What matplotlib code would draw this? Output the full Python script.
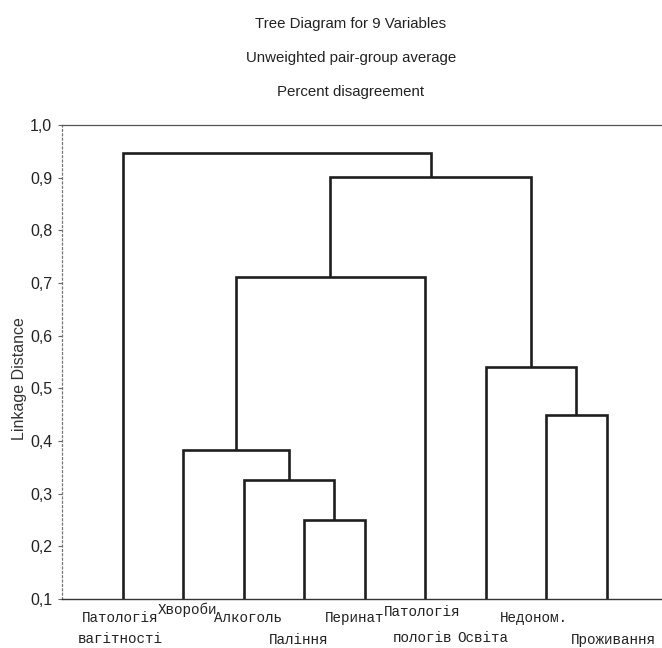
import matplotlib
matplotlib.use("Agg")
import matplotlib.pyplot as plt
import matplotlib.transforms as mtransforms

# ---- data ----
leaf_labels = ["Патологія\nвагітності", "Хвороби", "Алкоголь", "Паління", "Перинат",
               "Патологія\nпологів", "Освіта", "Недоном.", "Проживання"]
# merges: (left node, right node, linkage distance); nodes 0-8 are leaves, new nodes numbered from 9
merge_left = [3, 2, 1, 7, 6, 11, 14, 0]
merge_right = [4, 9, 10, 8, 12, 5, 13, 15]
merge_height = [0.25, 0.326, 0.383, 0.449, 0.54, 0.711, 0.901, 0.946]
y_ticks = [0.1, 0.2, 0.3, 0.4, 0.5, 0.6, 0.7, 0.8, 0.9, 1.0]
title_lines = ["Tree Diagram for 9 Variables", "Unweighted pair-group average", "Percent disagreement"]

sans = "Liberation Sans"
mono = "Liberation Mono"

fig = plt.figure(figsize=(6.62, 6.48), dpi=100)
ax = fig.add_axes([62 / 662, 49 / 648, 605 / 662, 474 / 648])

ymin = 0.1
pos = {i: float(i + 1) for i in range(len(leaf_labels))}
hgt = {i: ymin for i in range(len(leaf_labels))}
node = len(leaf_labels)
for l, r, h in zip(merge_left, merge_right, merge_height):
    xl, xr = pos[l], pos[r]
    ax.plot([xl, xl, xr, xr], [hgt[l], h, h, hgt[r]], color="#1e1e1e", lw=1.9,
            solid_joinstyle="miter", solid_capstyle="butt")
    pos[node] = (xl + xr) / 2
    hgt[node] = h
    node += 1

ax.set_xlim(0, 10)
ax.set_ylim(ymin, 1.0)
ax.set_yticks(y_ticks)
ax.set_yticklabels([f"{v:.1f}".replace(".", ",") for v in y_ticks], fontfamily=sans, fontsize=11.5,
                   color="#222")
ax.set_xticks([])
ax.tick_params(axis="y", length=3, width=0.8, color="#666", pad=4)

ax.spines["right"].set_visible(False)
ax.spines["top"].set_color("#555")
ax.spines["top"].set_linewidth(0.9)
ax.spines["left"].set_color("#777")
ax.spines["left"].set_linewidth(0.9)
ax.spines["left"].set_linestyle((0, (1.5, 2)))
ax.spines["bottom"].set_color("#333")
ax.spines["bottom"].set_linewidth(1.0)

ax.set_ylabel("Linkage Distance", fontfamily=sans, fontsize=11.5, color="#333")
ax.yaxis.set_label_coords(-0.058, 0.466)

# staggered leaf labels (style: pixel offsets below the axis for each line, horizontal nudges)
label_dy = [(19, 40), (11,), (19,), (41,), (19,), (13, 39), (39,), (19,), (41,)]
label_dx = [-2, 4, 4, -5, -10, -3, -3, -12, 7]
for i, txt in enumerate(leaf_labels):
    for line, dy in zip(txt.split("\n"), label_dy[i]):
        off = mtransforms.offset_copy(ax.get_xaxis_transform(), fig=fig,
                                      x=label_dx[i] * 0.72, y=-dy * 0.72, units="points")
        ax.text(pos[i], 0, line, transform=off, ha="center", va="center",
                fontfamily=mono, fontsize=10.3, color="#222")

for k, line in enumerate(title_lines):
    fig.text(351 / 662, 1 - (24 + 34 * k) / 648, line, ha="center", va="center",
             fontfamily=sans, fontsize=10.8, color="#222")

fig.savefig("out.png", dpi=100, facecolor="white")
